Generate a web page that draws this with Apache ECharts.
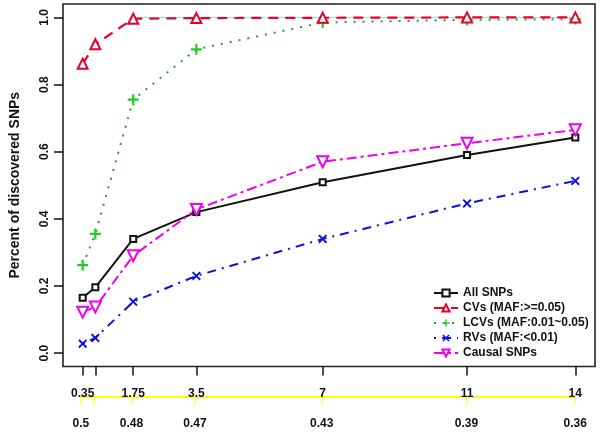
<!DOCTYPE html>
<html>
<head>
<meta charset="utf-8">
<script src="https://cdn.jsdelivr.net/npm/echarts@6/dist/echarts.min.js"></script>
<style>html,body{margin:0;padding:0;background:#fff}#c{width:602px;height:432px}</style>
</head>
<body>
<div id="c"></div>
<script>
var xValues = [0.35, 0.7, 1.75, 3.5, 7, 11, 14];
var allSNPs = [0.165, 0.196, 0.340, 0.420, 0.509, 0.590, 0.642];
var cvs     = [0.862, 0.920, 0.996, 0.998, 0.999, 1.000, 1.000];
var lcvs    = [0.262, 0.355, 0.755, 0.905, 0.985, 0.993, 0.995];
var rvs     = [0.028, 0.045, 0.153, 0.230, 0.340, 0.446, 0.513];
var causal  = [0.122, 0.137, 0.290, 0.428, 0.570, 0.625, 0.665];
var refX    = [1.75, 14];
var refY    = [1.0, 1.0];
var labelPos    = [0.35, 1.75, 3.5, 7, 11, 14];
var topLabels   = ['0.35', '1.75', '3.5', '7', '11', '14'];
var bottomLabels= ['0.5', '0.48', '0.47', '0.43', '0.39', '0.36'];
var yTicks = [0, 0.2, 0.4, 0.6, 0.8, 1.0];

function pairs(xs, ys) { return xs.map(function (x, i) { return [x, ys[i]]; }); }
function lookup(arr) { return function (v) { for (var i = 0; i < labelPos.length; i++) { if (Math.abs(labelPos[i] - v) < 1e-6) return arr[i]; } return ''; }; }

var FONT = "'Liberation Sans', Arial, sans-serif";
var plusPath = 'path://M4,0H6V4H10V6H6V10H4V6H0V4H4Z';
var crossPath = 'path://M1.5,0L5,3.5L8.5,0L10,1.5L6.5,5L10,8.5L8.5,10L5,6.5L1.5,10L0,8.5L3.5,5L0,1.5Z';

var chart = echarts.init(document.getElementById('c'), null, {renderer: 'canvas'});
chart.setOption({
  animation: false,
  backgroundColor: '#fff',
  grid: [
    {left: 61, right: 7, top: 4, bottom: 65.5, show: true, borderColor: '#222', borderWidth: 1.6, containLabel: false},
    {left: 80.8, right: 26.8, top: 396, height: 1, show: false}
  ],
  xAxis: [
    {
      type: 'value', gridIndex: 0, min: -0.196, max: 14.546,
      splitLine: {show: false},
      axisLine: {show: false, onZero: false},
      axisTick: {show: true, inside: false, length: 9, customValues: xValues, lineStyle: {color: '#111', width: 1.5}},
      axisLabel: {show: true, customValues: labelPos, formatter: lookup(topLabels), margin: 21,
        fontFamily: FONT, fontSize: 12, fontWeight: 'bold', color: '#111'}
    },
    {
      type: 'value', gridIndex: 1, min: 0.35, max: 14,
      splitLine: {show: false},
      axisLine: {show: true, onZero: false, lineStyle: {color: '#ffff00', width: 2}},
      axisTick: {show: true, inside: false, length: 8, customValues: xValues, lineStyle: {color: '#ffff44', width: 1.5}},
      axisLabel: {show: true, customValues: labelPos, formatter: lookup(bottomLabels), margin: 21,
        fontFamily: FONT, fontSize: 12, fontWeight: 'bold', color: '#111'}
    }
  ],
  yAxis: [
    {
      type: 'value', gridIndex: 0, min: -0.04, max: 1.04,
      name: 'Percent of discovered SNPs', nameLocation: 'middle', nameRotate: 90, nameGap: 41,
      nameTextStyle: {fontFamily: FONT, fontSize: 14, fontWeight: 'bold', color: '#111'},
      splitLine: {show: false},
      axisLine: {show: false, onZero: false},
      axisTick: {show: true, inside: false, length: 9, customValues: yTicks, lineStyle: {color: '#111', width: 1.5}},
      axisLabel: {show: true, customValues: yTicks, rotate: 90, margin: 12,
        formatter: function (v) { return v.toFixed(1); },
        fontFamily: FONT, fontSize: 12, fontWeight: 'bold', color: '#111'}
    },
    {type: 'value', gridIndex: 1, min: 0, max: 1, show: false}
  ],
  legend: {
    orient: 'vertical', left: 428, top: 281,
    itemWidth: 24, itemHeight: 9, itemGap: 1,
    backgroundColor: 'transparent',
    textStyle: {fontFamily: FONT, fontSize: 12, fontWeight: 'bold', color: '#111', lineHeight: 14},
    data: ['All SNPs', 'CVs (MAF:>=0.05)', 'LCVs (MAF:0.01~0.05)', 'RVs (MAF:<0.01)', 'Causal SNPs']
  },
  series: [
    {
      name: 'ref', type: 'line', data: pairs(refX, refY), showSymbol: false, silent: true, z: 1,
      lineStyle: {color: '#7fe8e8', width: 1}
    },
    {
      name: 'All SNPs', type: 'line', data: pairs(xValues, allSNPs), z: 3,
      symbol: 'emptyRect', symbolSize: 6,
      itemStyle: {color: '#111', borderWidth: 1.5},
      lineStyle: {color: '#111', width: 2, type: 'solid'}
    },
    {
      name: 'CVs (MAF:>=0.05)', type: 'line', data: pairs(xValues, cvs), z: 3,
      symbol: 'emptyTriangle', symbolSize: 10,
      itemStyle: {color: '#e8002a', borderWidth: 1.8},
      lineStyle: {color: '#e8002a', width: 2.2, type: [10, 7]}
    },
    {
      name: 'LCVs (MAF:0.01~0.05)', type: 'line', data: pairs(xValues, lcvs), z: 2,
      symbol: plusPath, symbolSize: 11,
      itemStyle: {color: '#22cc22'},
      lineStyle: {color: '#3a8f4a', width: 2, type: [2, 7]}
    },
    {
      name: 'RVs (MAF:<0.01)', type: 'line', data: pairs(xValues, rvs), z: 3,
      symbol: crossPath, symbolSize: 9,
      itemStyle: {color: '#1010dd'},
      lineStyle: {color: '#1010dd', width: 2, type: [2, 6, 9, 6]}
    },
    {
      name: 'Causal SNPs', type: 'line', data: pairs(xValues, causal), z: 3,
      symbol: 'emptyTriangle', symbolSize: 11, symbolRotate: 180,
      itemStyle: {color: '#ee00ee', borderWidth: 1.6},
      lineStyle: {color: '#ee00ee', width: 2, type: [10, 4, 3, 4]}
    }
  ]
});
</script>
</body>
</html>
